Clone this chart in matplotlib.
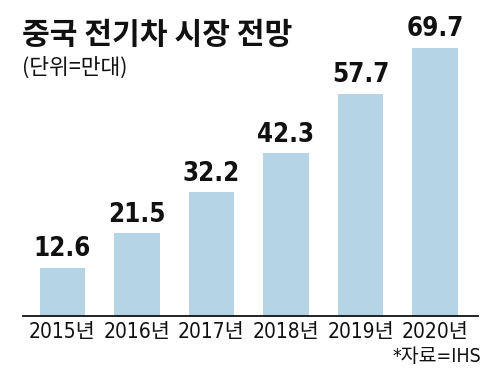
import matplotlib
matplotlib.use("Agg")
import matplotlib.pyplot as plt

years = ["2015년", "2016년", "2017년", "2018년", "2019년", "2020년"]
values = [12.6, 21.5, 32.2, 42.3, 57.7, 69.7]
title = "중국 전기차 시장 전망"
unit = "(단위=만대)"
source = "*자료=IHS"

KR = "Noto Sans CJK KR"
NUM = ["DejaVu Sans", KR]

fig = plt.figure(figsize=(5, 3.77), dpi=100)
ax = fig.add_axes([0.046, 0.1618, 0.91, 0.8117])
x = list(range(len(values)))
bars = ax.bar(x, values, width=0.617, color="#b5d4e5", zorder=2)
ax.set_xlim(-0.53, 5.577)
ax.set_ylim(0, 79.5)
for s in ["top", "right", "left"]:
    ax.spines[s].set_visible(False)
ax.spines["bottom"].set_linewidth(1.3)
ax.spines["bottom"].set_color("#111111")
ax.set_yticks([])
ax.set_xticks(x)
ax.set_xticklabels(years, fontsize=15, family=NUM, fontstretch="condensed",
                   color="#111111")
ax.tick_params(axis="x", length=0, pad=4)

for xi, v in zip(x, values):
    ax.annotate(f"{v:.1f}", (xi, v), xytext=(0, 4), textcoords="offset points",
                ha="center", va="bottom", fontsize=18.5, fontweight="bold",
                fontstretch="condensed", family=NUM, color="#111111")

fig.text(0.044, 0.948, title, fontsize=21.7, fontweight=900, family=KR,
         ha="left", va="top", color="#111111")
fig.text(0.044, 0.85, unit, fontsize=15.5, family=[KR], ha="left", va="top",
         color="#111111")
fig.text(0.962, 0.03, source, fontsize=14, family=NUM, fontstretch="condensed",
         ha="right", va="bottom", color="#111111")

fig.savefig("out.png", dpi=100)
